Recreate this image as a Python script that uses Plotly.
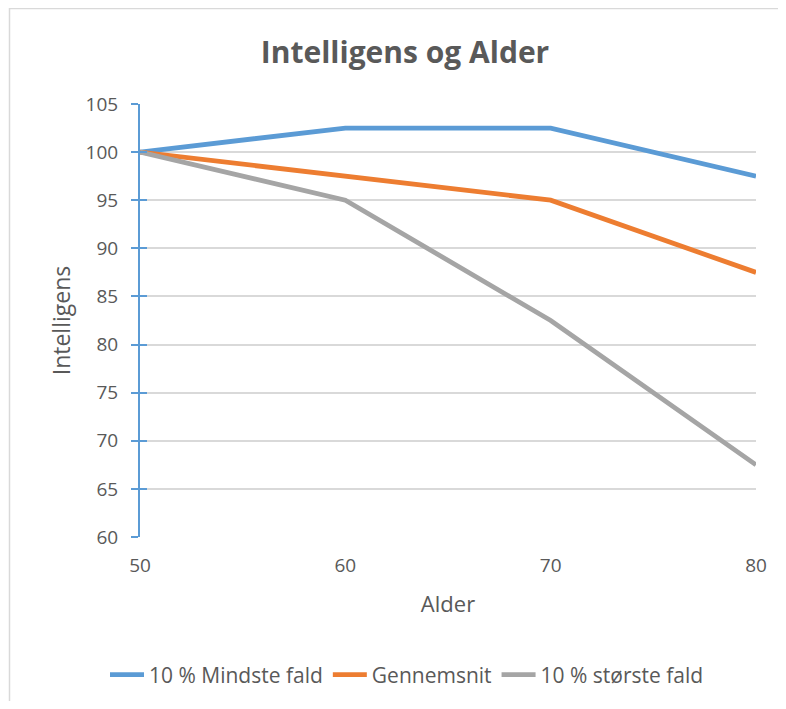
import plotly.graph_objects as go

ages = [50, 60, 70, 80]
mindste = [100, 102.5, 102.5, 97.5]
gennemsnit = [100, 97.5, 95, 87.5]
stoerste = [100, 95, 82.5, 67.5]
names = ["10 % Mindste fald", "Gennemsnit", "10 % største fald"]
colors = ["#5B9BD5", "#ED7D31", "#A5A5A5"]
y_ticks = [60, 65, 70, 75, 80, 85, 90, 95, 100, 105]
x_ticks = [50, 60, 70, 80]

font = "Open Sans, sans-serif"
W, H = 770, 693
L, R, T, B = 132, 22, 96, 164
PW, PH = W - L - R, H - T - B

fig = go.Figure()
for name, vals, c in zip(names, [mindste, gennemsnit, stoerste], colors):
    fig.add_trace(go.Scatter(x=ages, y=vals, name=name, mode="lines",
                             line=dict(color=c, width=4.8)))
# overlay axis for the inside half of the cross ticks
fig.add_trace(go.Scatter(x=ages, y=mindste, yaxis="y2", mode="lines",
                         line=dict(width=0), showlegend=False, hoverinfo="skip"))

fig.update_layout(
    width=W, height=H,
    margin=dict(l=L, r=R, t=T, b=B, autoexpand=False),
    paper_bgcolor="white", plot_bgcolor="white",
    font=dict(family=font, color="#595959", size=19),
    title=dict(text="<b>Intelligens og Alder</b>", x=397 / W, xanchor="center",
               y=1 - 44 / H, yanchor="middle", font=dict(size=30, color="#595959")),
    xaxis=dict(range=[50, 80], tickvals=x_ticks, showgrid=False, zeroline=False,
               showline=False, ticks="", ticklabelstandoff=15,
               title=dict(text="Alder", standoff=19, font=dict(size=22))),
    yaxis=dict(range=[60, 105], tickvals=y_ticks, showgrid=True, gridcolor="#D9D9D9",
               gridwidth=1.5, zeroline=False, showline=True, linecolor="#5B9BD5",
               linewidth=2, ticks="outside", ticklen=7, tickwidth=2, tickcolor="#5B9BD5",
               ticklabelstandoff=9,
               title=dict(text="Intelligens", standoff=9, font=dict(size=23))),
    yaxis2=dict(range=[60, 105], tickvals=y_ticks, overlaying="y", side="left",
                showgrid=False, zeroline=False, showticklabels=False,
                ticks="inside", ticklen=7, tickwidth=2, tickcolor="#5B9BD5", showline=False),
    legend=dict(orientation="h", x=(399 - L) / PW, xanchor="center",
                y=(T + PH - 667) / PH, yanchor="middle", font=dict(size=21),
                itemwidth=34, traceorder="normal"),
    shapes=[dict(type="rect", xref="paper", yref="paper",
                 x0=(1.5 - L) / PW, x1=(W + 20 - L) / PW,
                 y0=(T + PH - (H + 20)) / PH, y1=(T + PH - 0.5) / PH,
                 line=dict(color="#D9D9D9", width=1.5), fillcolor="rgba(0,0,0,0)",
                 layer="below")],
)
fig.write_html("out.html")
